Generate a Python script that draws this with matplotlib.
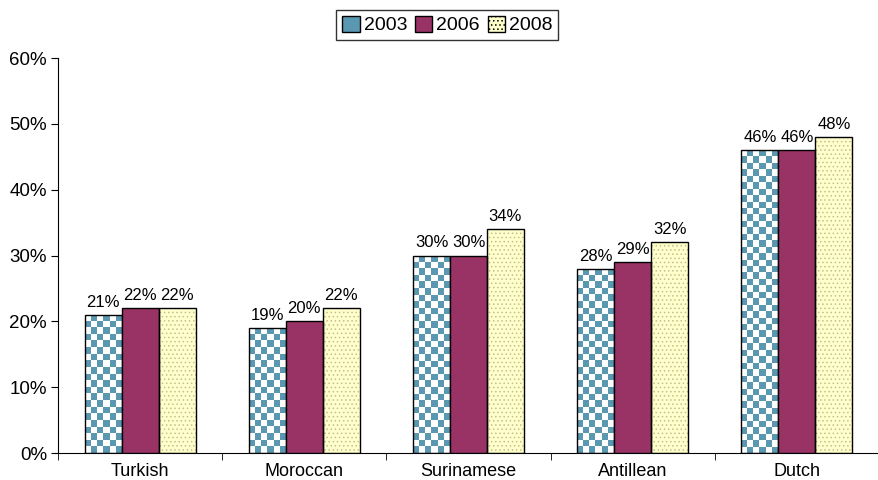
import numpy as np
import matplotlib.pyplot as plt
from matplotlib.patches import Patch

categories = ['Turkish', 'Moroccan', 'Surinamese', 'Antillean', 'Dutch']
years = ['2003', '2006', '2008']
v2003 = [21, 19, 30, 28, 46]
v2006 = [22, 20, 30, 29, 46]
v2008 = [22, 22, 34, 32, 48]

plt.rcParams['font.family'] = ['Liberation Sans', 'DejaVu Sans']
plt.rcParams['hatch.linewidth'] = 0.6
fig = plt.figure(figsize=(8.79, 4.8), dpi=100)
ax = fig.add_axes([0.066, 0.056, 0.934, 0.823])

x = np.arange(len(categories))
w = 0.225
blue = '#5a97b0'
checker = np.indices((200, 200)).sum(axis=0) % 2
cmap = plt.matplotlib.colors.ListedColormap(['white', blue])

# 2003: checkerboard bars
for xi, v in zip(x - w, v2003):
    b = ax.bar(xi, v, w, facecolor='none', edgecolor='black', lw=1, zorder=3)[0]
    nx = 6
    ny = int(round(v / 60 * 395 / 6.5))
    im = ax.imshow(checker[:ny, :nx], cmap=cmap, extent=(xi - w/2, xi + w/2, 0, v),
                   aspect='auto', interpolation='nearest', zorder=2)
    im.set_clip_path(b)

# 2006
ax.bar(x, v2006, w, color='#993366', edgecolor='black', lw=1, zorder=3)

# 2008: dotted light yellow
ax.bar(x + w, v2008, w, color='#ffffcc', edgecolor='#c8bc90', hatch='....', lw=0, zorder=2)
ax.bar(x + w, v2008, w, facecolor='none', edgecolor='black', lw=1, zorder=3)

for off, vals in zip([-w, 0, w], [v2003, v2006, v2008]):
    for xi, v in zip(x + off, vals):
        ax.text(xi, v + 0.8, f'{v}%', ha='center', va='bottom', fontsize=12)

ax.set_xlim(-0.5, len(categories) - 0.5)
ax.set_ylim(0, 60)
ax.set_yticks(range(0, 61, 10))
ax.set_yticklabels([f'{t}%' for t in range(0, 61, 10)], fontsize=13.5)
ax.set_xticks(x)
ax.set_xticklabels(categories, fontsize=13)
ax.tick_params(axis='x', length=0, pad=7)
ax.set_xticks(np.arange(-0.5, len(categories)), minor=True)
ax.tick_params(axis='x', which='minor', length=5, direction='out')
ax.tick_params(axis='y', length=5, direction='out', pad=3)
ax.spines['top'].set_visible(False)
ax.spines['right'].set_visible(False)

handles = [Patch(facecolor=blue, edgecolor='black', label=years[0]),
           Patch(facecolor='#993366', edgecolor='black', label=years[1]),
           Patch(facecolor='#ffffcc', edgecolor='black', hatch='....', label=years[2])]
leg = fig.legend(handles=handles, loc='upper center', bbox_to_anchor=(0.509, 1.0), ncol=3,
                 fontsize=14, frameon=True, fancybox=False, edgecolor='black',
                 handlelength=0.9, handleheight=0.9, handletextpad=0.2, columnspacing=0.4,
                 borderpad=0.3)
leg.get_frame().set_linewidth(1)

fig.savefig('out.png', dpi=100)
